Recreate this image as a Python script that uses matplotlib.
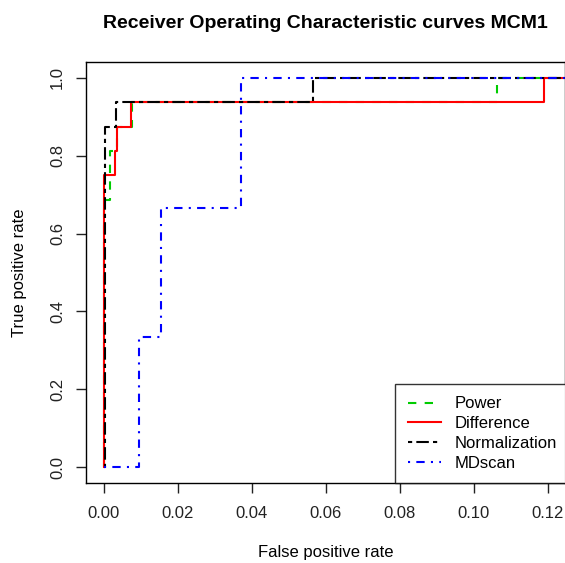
import matplotlib.pyplot as plt

plt.rcParams["font.family"] = ["Liberation Sans", "DejaVu Sans"]

# ROC curve points (false positive rate, true positive rate)
power_fpr = [0, 0, 0.0018, 0.0018, 0.0036, 0.0036, 0.0077, 0.0077, 0.1064, 0.1064, 1.0]
power_tpr = [0, 0.6875, 0.6875, 0.8125, 0.8125, 0.875, 0.875, 0.9375, 0.9375, 1.0, 1.0]

diff_fpr = [0, 0, 0.0030, 0.0030, 0.0036, 0.0036, 0.0075, 0.0075, 0.1190, 0.1190, 1.0]
diff_tpr = [0, 0.75, 0.75, 0.8125, 0.8125, 0.875, 0.875, 0.9375, 0.9375, 1.0, 1.0]

norm_fpr = [0, 0.0004, 0.0004, 0.0032, 0.0032, 0.0567, 0.0567, 1.0]
norm_tpr = [0, 0, 0.875, 0.875, 0.9375, 0.9375, 1.0, 1.0]

mdscan_fpr = [0, 0.0094, 0.0094, 0.0155, 0.0155, 0.0371, 0.0371, 1.0]
mdscan_tpr = [0, 0, 0.3333, 0.3333, 0.6667, 0.6667, 1.0, 1.0]

x_ticks = [0.00, 0.02, 0.04, 0.06, 0.08, 0.10, 0.12]
y_ticks = [0.0, 0.2, 0.4, 0.6, 0.8, 1.0]

W, H = 565, 563
fig = plt.figure(figsize=(W / 100, H / 100), dpi=100)
ax = fig.add_axes([86 / W, 1 - 482.6 / H, (565.3 - 86) / W, (482.6 - 62.4) / H])

lw = 1.5
ax.plot(power_fpr, power_tpr, color="#00cc00", lw=lw, dashes=(4, 4), label="Power")
ax.plot(diff_fpr, diff_tpr, color="red", lw=lw, label="Difference")
ax.plot(norm_fpr, norm_tpr, color="black", lw=lw, dashes=(2, 2, 6, 2), label="Normalization")
ax.plot(mdscan_fpr, mdscan_tpr, color="blue", lw=lw, dashes=(1, 3, 4, 3), label="MDscan")

ax.set_xlim(-0.0048, 0.1248)
ax.set_ylim(-0.04, 1.04)
ax.set_xticks(x_ticks)
ax.set_xticklabels([f"{v:.2f}" for v in x_ticks])
ax.set_yticks(y_ticks)
ax.set_yticklabels([f"{v:.1f}" for v in y_ticks], rotation=90, va="center")
ax.tick_params(labelsize=12, length=7, width=1.0, pad=8, colors="#222222")
ax.tick_params(axis="x", pad=10)
for s in ax.spines.values():
    s.set_linewidth(1.0)

ax.set_title("Receiver Operating Characteristic curves MCM1", fontsize=14,
             fontweight="bold", pad=24.8)
ax.set_xlabel("False positive rate", fontsize=12)
ax.set_ylabel("True positive rate", fontsize=12)
ax.xaxis.set_label_coords(0.5, -(553 - 482.6) / (482.6 - 62.4))
ax.xaxis.label.set_va("center")
ax.yaxis.set_label_coords(-(86 - 20) / (565.3 - 86), 0.5)
ax.yaxis.label.set_va("center")

leg = fig.legend(loc="lower left", bbox_to_anchor=(395 / W, 1 - 483 / H),
                 bbox_transform=fig.transFigure, fontsize=12, frameon=True,
                 fancybox=False, borderaxespad=0, borderpad=0.75,
                 handlelength=2.0, handletextpad=0.85, labelspacing=0.28)
leg.get_frame().set_edgecolor("black")
leg.get_frame().set_linewidth(1.0)

fig.savefig("out.png", dpi=100)
